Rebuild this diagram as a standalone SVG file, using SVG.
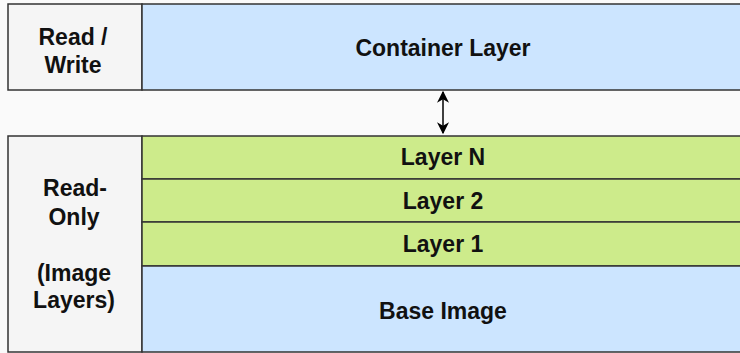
<svg xmlns="http://www.w3.org/2000/svg" width="740" height="353" viewBox="0 0 740 353">
<style>
.t{font-family:"Liberation Sans",Arial,Helvetica,sans-serif;font-weight:bold;font-size:23px;fill:#111;text-anchor:middle}
.side{fill:#f5f5f5;stroke:#333;stroke-width:1.5}
.blue{fill:#cce5ff;stroke:#333;stroke-width:1.5}
.green{fill:#cdeb8b;stroke:#333;stroke-width:1.5}
</style>
<defs>
<marker id="ah" viewBox="0 0 10 10" refX="9" refY="5" markerWidth="13" markerHeight="12" orient="auto-start-reverse" markerUnits="userSpaceOnUse">
<path d="M0,0 L10,5 L0,10 L3,5 Z" fill="#000"/>
</marker>
</defs>
<rect x="0" y="0" width="740" height="353" fill="#fafafa"/>
<g id="read-write"><rect class="side" x="8" y="4" width="134" height="86"/><text class="t" x="73" y="45">Read /</text><text class="t" x="73" y="73">Write</text></g>
<g id="container-layer"><rect class="blue" x="142" y="4" width="605" height="86"/><text class="t" x="443" y="56">Container Layer</text></g>
<g id="read-only"><rect class="side" x="8" y="136" width="134" height="216"/><text class="t" x="75" y="196">Read-</text><text class="t" x="74" y="225">Only</text><text class="t" x="74" y="281">(Image</text><text class="t" x="74" y="308">Layers)</text></g>
<g id="layer-n"><rect class="green" x="142" y="136" width="605" height="43"/><text class="t" x="443" y="165">Layer N</text></g>
<g id="layer-2"><rect class="green" x="142" y="179" width="605" height="43"/><text class="t" x="443" y="209">Layer 2</text></g>
<g id="layer-1"><rect class="green" x="142" y="222" width="605" height="44"/><text class="t" x="443" y="252">Layer 1</text></g>
<g id="base-image"><rect class="blue" x="142" y="266" width="605" height="86"/><text class="t" x="443" y="319">Base Image</text></g>
<g id="connectors"><line x1="443" y1="92" x2="443" y2="133" stroke="#000" stroke-width="1.5" marker-start="url(#ah)" marker-end="url(#ah)"/></g>
</svg>
